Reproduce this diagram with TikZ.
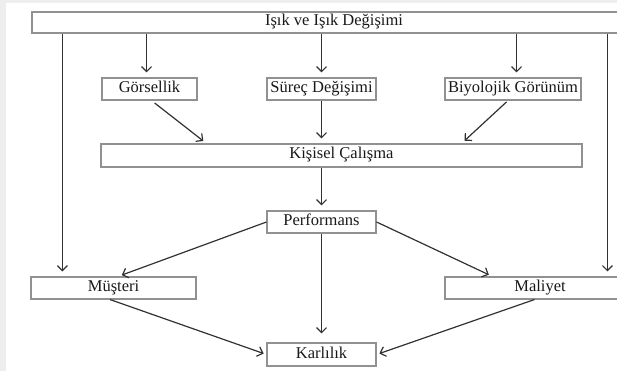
\documentclass[tikz,border=0pt]{standalone}
\usepackage{fontspec}
\setmainfont{Liberation Serif}
\usetikzlibrary{calc,positioning,arrows.meta}
\definecolor{edge}{RGB}{50,50,50}
\definecolor{frame}{RGB}{145,145,145}
\definecolor{strip}{RGB}{238,238,238}
\tikzstyle{box} = [rectangle,
draw=frame, line width=1.1pt,
fill=white, inner sep=0pt,
minimum height=22pt,
text height=11pt, text depth=4pt, % keeps all labels on one baseline
text=black!90,
font=\fontsize{16.5}{18}\selectfont]
\tikzstyle{arrow} = [->, line width=1.2pt, draw=edge, shorten >=5pt]

\begin{document}
\begin{tikzpicture}[
  x=1pt, y=-1pt, % pixel-like units, y pointing down
  >={Straight Barb[length=5pt, width=10pt]},
]
  \useasboundingbox (0,0) rectangle (617,371);
  \fill[white] (0,0) rectangle (617,371);
  \fill[strip] (0,0) rectangle (617,3);
  \fill[strip] (0,0) rectangle (6,371);

  \node[box, minimum width=604pt, minimum height=21pt] (isik)  at (334,22.5)   {Işık ve Işık Değişimi};

  \node[box, minimum width=95pt]  (gors)  at (149.5,89) {Görsellik};
  \node[box, minimum width=109pt] (surec) at (321.5,89) {Süreç Değişimi};
  \node[box, minimum width=136pt] (biyo)  at (513,89)   {Biyolojik Görünüm};

  \node[box, minimum width=481pt, minimum height=23pt] (kis) at (341.5,155.5) {Kişisel Çalışma};
  \node[box, minimum width=109pt] (perf)  at (321.5,222) {Performans};

  \node[box, minimum width=165pt] (must)  at (113.5,288) {Müşteri};
  \node[box, minimum width=190pt] (mal)   at (540,288)   {Maliyet};
  \node[box, minimum width=109pt, minimum height=23pt] (karl) at (321.5,354.5) {Karlılık};

  % top row
  \draw [arrow] ($(isik.south -| gors.north)+(-3,0)$) -- ($(gors.north)+(-3,0)$);
  \draw [arrow] (isik.south -| surec.north) -- (surec.north);
  \draw [arrow] ($(isik.south -| biyo.north)+(3.5,0)$) -- ($(biyo.north)+(3.5,0)$);

  \draw [arrow, shorten <=4pt, shorten >=4pt] ($(gors.south)+(2,0)$) -- ($(kis.north west)+(106,0)$);
  \draw [arrow] (surec.south) -- (surec.south |- kis.north);
  \draw [arrow, shorten <=2pt, shorten >=4pt] ($(biyo.south)+(-5,0)$) -- ($(kis.north east)+(-121,0)$);

  \draw [arrow] (perf.north |- kis.south) -- (perf.north);

  % long side lines
  \draw [arrow] ($(isik.south west)+(31,0)$)  -- ($(must.north west)+(32,0)$);
  \draw [arrow] ($(isik.south west)+(576,0)$) -- ($(mal.north west)+(163,0)$);

  \draw [arrow, shorten >=4pt] (perf.west) -- ($(must.north)+(4.5,0)$);
  \draw [arrow, shorten >=4pt] (perf.east) -- ($(mal.north west)+(48,0)$);
  \draw [arrow, shorten >=9pt] (perf.south) -- (karl.north);

  \draw [arrow, shorten >=3pt] ($(must.south)+(-3.5,0)$)   -- (karl.west);
  \draw [arrow, shorten >=3pt] ($(mal.south west)+(90,0)$) -- (karl.east);
\end{tikzpicture}
\end{document}
